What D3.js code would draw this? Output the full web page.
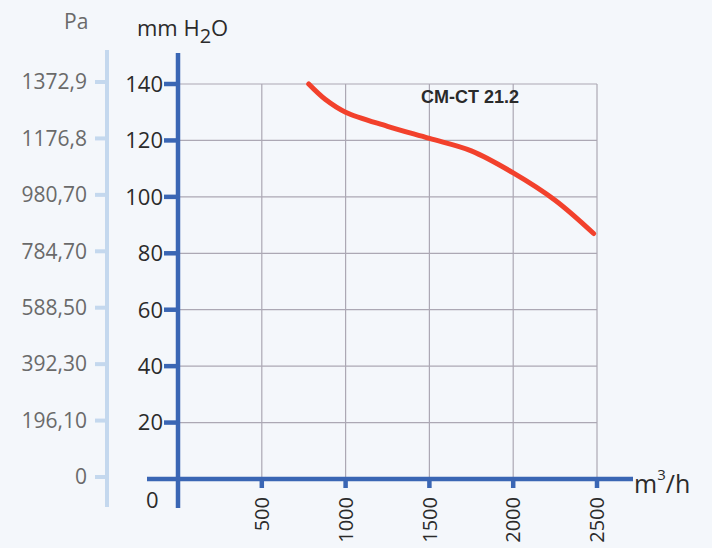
<!DOCTYPE html>
<meta charset="utf-8">
<style type="text/css">
body { margin: 0; background: #f4f7fb; }
svg { display: block; font-family: 'Open Sans', sans-serif; }
.grid line { stroke: #aca8b4; stroke-width: 1.2px; }
.pa-label { fill: #6a6a6a; font-size: 21px; }
.mm-label { fill: #2b2b2b; font-size: 22px; }
.x-label { fill: #2b2b2b; font-size: 20px; }
.curve { fill: none; stroke: #f2412c; stroke-width: 5px; stroke-linecap: round; }
</style>
<body>
<div class="g-chart"></div>

<script src="https://cdnjs.cloudflare.com/ajax/libs/d3/7.8.5/d3.min.js"></script>
<script type="text/javascript">

// flow (m3/h) vs pressure (mm H2O)
var flow     = [780, 880, 1000, 1250, 1500, 1750, 2000, 2250, 2480];
var pressure = [140, 134.5, 130, 125, 120.7, 116.3, 108.5, 98.8, 87];

// tick labels
var mmTicks   = [20, 40, 60, 80, 100, 120, 140];
var paTicks   = ["0", "196,10", "392,30", "588,50", "784,70", "980,70", "1176,8", "1372,9"];
var flowTicks = [500, 1000, 1500, 2000, 2500];

var seriesName = "CM-CT 21.2";
var blue = "#3a66b4", paBlue = "#c4d8ee";

var width = 712, height = 548;

var x = d3.scaleLinear().domain([0, 2500]).range([178, 597]);
var y = d3.scaleLinear().domain([0, 140]).range([479, 84]);

var svg = d3.select(".g-chart").append("svg")
  .attr("width", width)
  .attr("height", height);

//Grid
var grid = svg.append("g").attr("class", "grid");
grid.selectAll("line.h")
  .data(mmTicks)
  .enter().append("line")
  .attr("x1", x(0)).attr("x2", x(2500))
  .attr("y1", function(d) { return y(d); })
  .attr("y2", function(d) { return y(d); });
grid.selectAll("line.v")
  .data(flowTicks)
  .enter().append("line")
  .attr("x1", function(d) { return x(d); })
  .attr("x2", function(d) { return x(d); })
  .attr("y1", y(0)).attr("y2", y(140));

//Pa axis (left, light)
svg.append("line")
  .attr("x1", 107).attr("x2", 107)
  .attr("y1", 50).attr("y2", 507)
  .style("stroke", paBlue).style("stroke-width", 4);

svg.selectAll("line.patick")
  .data(paTicks)
  .enter().append("line")
  .attr("x1", 95).attr("x2", 107)
  .attr("y1", function(d, i) { return y(i * 20) - 2; })
  .attr("y2", function(d, i) { return y(i * 20) - 2; })
  .style("stroke", paBlue).style("stroke-width", 4);

svg.selectAll("text.pa")
  .data(paTicks)
  .enter().append("text")
  .attr("class", "pa-label")
  .attr("text-anchor", "end")
  .attr("x", 87)
  .attr("y", function(d, i) { return y(i * 20) - 2; })
  .attr("dy", "0.35em")
  .text(function(d) { return d; });

svg.append("text")
  .attr("class", "pa-label")
  .attr("x", 64).attr("y", 29)
  .text("Pa");

//mm H2O axis
svg.append("line")
  .attr("x1", x(0)).attr("x2", x(0))
  .attr("y1", 53).attr("y2", 508)
  .style("stroke", blue).style("stroke-width", 4.5);

svg.selectAll("line.mmtick")
  .data(mmTicks)
  .enter().append("line")
  .attr("x1", x(0) - 14).attr("x2", x(0))
  .attr("y1", function(d) { return y(d); })
  .attr("y2", function(d) { return y(d); })
  .style("stroke", blue).style("stroke-width", 4.5);

svg.selectAll("text.mm")
  .data(mmTicks)
  .enter().append("text")
  .attr("class", "mm-label")
  .attr("text-anchor", "end")
  .attr("x", x(0) - 15)
  .attr("y", function(d) { return y(d); })
  .attr("dy", "0.36em")
  .text(function(d) { return d; });

svg.append("text")
  .attr("class", "mm-label")
  .attr("x", 146).attr("y", 508)
  .text("0");

var unit = svg.append("text")
  .attr("class", "mm-label")
  .style("font-size", "22px")
  .attr("x", 137).attr("y", 36);
unit.append("tspan").text("mm H");
unit.append("tspan").attr("dy", 7).style("font-size", "20px").text("2");
unit.append("tspan").attr("dy", -7).text("O");

//Flow axis
svg.append("line")
  .attr("x1", 147).attr("x2", 633)
  .attr("y1", y(0)).attr("y2", y(0))
  .style("stroke", blue).style("stroke-width", 4.5);

svg.selectAll("line.xtick")
  .data(flowTicks)
  .enter().append("line")
  .attr("x1", function(d) { return x(d); })
  .attr("x2", function(d) { return x(d); })
  .attr("y1", y(0)).attr("y2", y(0) + 9)
  .style("stroke", blue).style("stroke-width", 4.5);

svg.selectAll("text.xt")
  .data(flowTicks)
  .enter().append("text")
  .attr("class", "x-label")
  .attr("text-anchor", "end")
  .attr("transform", function(d) { return "translate(" + x(d) + "," + 497 + ") rotate(-90)"; })
  .attr("dy", "0.36em")
  .text(function(d) { return d; });

var flowUnit = svg.append("text")
  .attr("class", "mm-label")
  .style("font-size", "25px")
  .attr("x", 634).attr("y", 493);
flowUnit.append("tspan").text("m");
flowUnit.append("tspan").attr("dy", -13).style("font-size", "15px").text("3");
flowUnit.append("tspan").attr("dy", 13).text("/h");

//Curve
var line = d3.line()
  .x(function(d) { return x(d[0]); })
  .y(function(d) { return y(d[1]); })
  .curve(d3.curveCatmullRom.alpha(0.5));

svg.append("path")
  .attr("class", "curve")
  .attr("d", line(d3.zip(flow, pressure)));

svg.append("text")
  .attr("x", 421).attr("y", 103)
  .style("font-family", "'Liberation Sans', Arial, sans-serif")
  .style("font-weight", "bold")
  .style("font-size", "18px")
  .style("fill", "#2a2a2a")
  .text(seriesName);

</script>
</body>
